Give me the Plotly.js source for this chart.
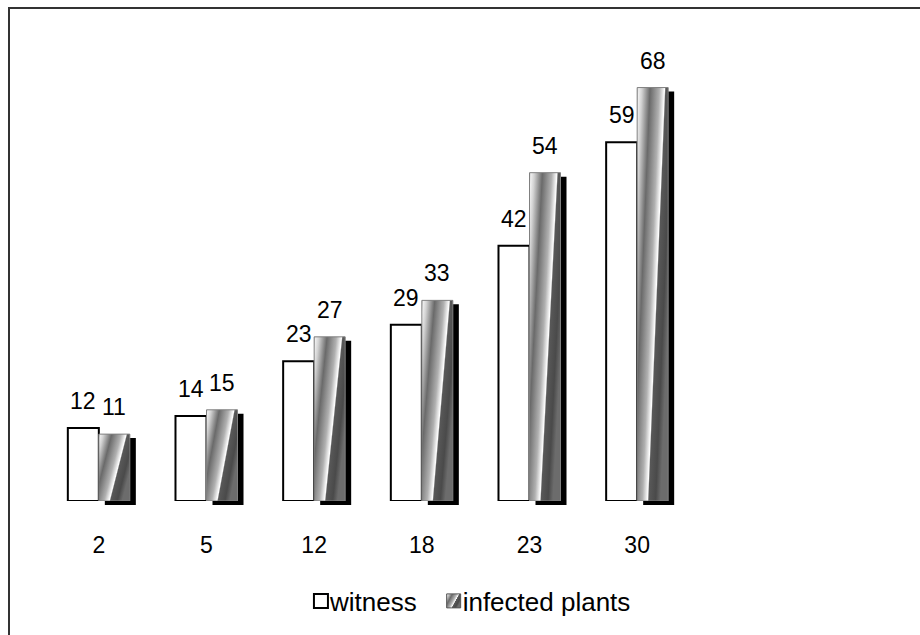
<!DOCTYPE html>
<html>
<head>
<meta charset="utf-8">
<script src="https://cdn.plot.ly/plotly-3.0.1.min.js"></script>
<style>
  html, body { margin: 0; padding: 0; background: #fff; }
  #wrap { position: relative; width: 920px; height: 635px; overflow: hidden; }
  #chart { position: absolute; left: 0; top: 0; width: 920px; height: 635px; }
  #frame { position: absolute; left: 8px; top: 7px; width: 1000px; height: 700px;
           border-left: 2px solid #333; border-top: 2px solid #333; pointer-events: none; }
</style>
</head>
<body>
<div id="wrap">
  <div id="chart"></div>
  <div id="frame"></div>
</div>
<script>
// Days after inoculation and the two measured series
const days = ['2', '5', '12', '18', '23', '30'];
const witness = [12, 14, 23, 29, 42, 59];
const infected = [11, 15, 27, 33, 54, 68];

const FONT = 'Arial, "Liberation Sans", sans-serif';
const BAR_HALF = 15.5; // half of one bar's pixel width, for centring value labels

const data = [
  {
    type: 'bar', name: 'witness', x: days, y: witness,
    marker: { color: '#ffffff', line: { color: '#000000', width: 2 } },
    cliponaxis: false, hoverinfo: 'skip'
  },
  {
    type: 'bar', name: 'infected plants', x: days, y: infected,
    marker: { color: '#9a9a9a', line: { color: '#808080', width: 1 } },
    cliponaxis: false, hoverinfo: 'skip'
  }
];

// Value labels above each bar (x given as category position)
const annotations = [];
days.forEach((d, i) => {
  annotations.push({ x: i, y: witness[i], text: String(witness[i]), showarrow: false,
    xshift: -BAR_HALF, yshift: 12, yanchor: 'bottom', font: { family: FONT, size: 23, color: '#000' } });
  annotations.push({ x: i, y: infected[i], text: String(infected[i]), showarrow: false,
    xshift: BAR_HALF, yshift: 12, yanchor: 'bottom', font: { family: FONT, size: 23, color: '#000' } });
});

const layout = {
  width: 920, height: 635,
  margin: { l: 45, r: 229, t: 45, b: 133 },
  paper_bgcolor: 'rgba(0,0,0,0)', plot_bgcolor: 'rgba(0,0,0,0)',
  barmode: 'group', bargap: 0.424, bargroupgap: 0,
  font: { family: FONT, color: '#000' },
  xaxis: {
    type: 'category', range: [-0.5, days.length - 0.5], autorange: false,
    showline: false, showgrid: false, zeroline: false, ticks: '',
    tickfont: { family: FONT, size: 23, color: '#000' }, ticklabelstandoff: 28
  },
  yaxis: { range: [0, 75], autorange: false, visible: false, showgrid: false, zeroline: false },
  showlegend: true,
  legend: {
    orientation: 'h', x: 0.664, xanchor: 'center', y: -0.2166, yanchor: 'middle',
    font: { family: FONT, size: 26, color: '#000' }, itemwidth: 30, tracegroupgap: 0,
    bgcolor: 'rgba(0,0,0,0)'
  },
  annotations: annotations
};

function addGradient(svg, id) {
  const ns = 'http://www.w3.org/2000/svg';
  let defs = svg.querySelector('defs');
  if (!defs) { defs = document.createElementNS(ns, 'defs'); svg.insertBefore(defs, svg.firstChild); }
  const g = document.createElementNS(ns, 'linearGradient');
  g.setAttribute('id', id);
  g.setAttribute('x1', '0'); g.setAttribute('y1', '0');
  g.setAttribute('x2', '1'); g.setAttribute('y2', '0.55');
  const stops = [
    [0, '#bdbdbd'], [0.04, '#eeeeee'], [0.12, '#d2d2d2'], [0.32, '#6a6a6a'],
    [0.55, '#b0b0b0'], [0.68, '#ffffff'], [0.71, '#585858'], [0.88, '#4a4a4a'], [1, '#6c6c6c']
  ];
  stops.forEach(([o, c]) => {
    const s = document.createElementNS(ns, 'stop');
    s.setAttribute('offset', o); s.setAttribute('stop-color', c);
    g.appendChild(s);
  });
  defs.appendChild(g);
}

const gd = document.getElementById('chart');
Plotly.newPlot(gd, data, layout, { staticPlot: true, displayModeBar: false }).then(() => {
  const svg = gd.querySelector('svg.main-svg');
  addGradient(svg, 'sheen');

  // Shaded fill and drop shadow for the infected series
  const traces = gd.querySelectorAll('.barlayer .trace');
  traces[1].querySelectorAll('.point path').forEach(p => {
    const sh = p.cloneNode(true);
    sh.style.fill = '#000'; sh.style.stroke = 'none'; sh.style.fillOpacity = 1;
    sh.setAttribute('transform', 'translate(6,4)');
    p.parentNode.insertBefore(sh, p);
    p.style.fill = 'url(#sheen)';
  });

  // Tighter legend entries: bigger swatch, text close to it
  const items = gd.querySelectorAll('.legend .traces');
  items.forEach((it, k) => {
    const sw = it.querySelector('.legendpoints path');
    if (sw) {
      sw.setAttribute('d', 'M7,7H-7V-7H7Z');
      if (k === 0) { sw.style.stroke = '#000'; sw.style.strokeWidth = '2px'; }
      else { sw.style.fill = 'url(#sheen)'; sw.style.stroke = '#555'; sw.style.strokeWidth = '1px'; }
    }
    const tx = it.querySelector('.legendtext');
    if (tx) tx.setAttribute('x', 29);
  });
});
</script>
</body>
</html>
